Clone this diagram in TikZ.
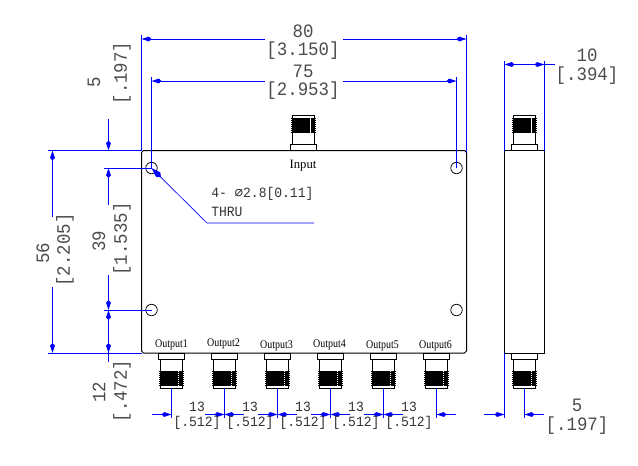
\documentclass[tikz,border=0pt]{standalone}
\usepackage{fontspec}
\usetikzlibrary{arrows.meta}
\setmainfont{Liberation Serif}
\newfontfamily\cadfont[FakeStretch=.92]{Liberation Mono}
\newfontfamily\portfont[FakeStretch=.85]{Liberation Serif}
\newfontfamily\symfont{DejaVu Sans Mono}

\tikzset{
    outline/.style={draw=black, line width=.75pt},
    dimline/.style={draw=blue, line width=.75pt},
    dimtip/.style={dimline, -{Kite[length=7.5pt, width=3.6pt, inset=2pt]}},
    bigdim/.style={font=\cadfont\fontsize{14.2}{16}\selectfont, inner sep=0pt, text=black!70},
    smalldim/.style={font=\cadfont\fontsize{10.6}{12}\selectfont, inner sep=0pt, text=black!80},
    portlabel/.style={font=\portfont\fontsize{8.8}{10}\selectfont, inner sep=0pt},
    hole/.style={draw=black, line width=.55pt, circle, minimum size=8.6pt, inner sep=0pt, outer sep=0pt},
    connector/.pic={
        \draw [outline] (-13,0) rectangle (13,6.5);
        \draw [outline] (-11,6.5) -- (-11,35) -- (11,35) -- (11,6.5);
        \fill [black] (-11,18) rectangle (11,33);
        \foreach \ty in {18,20,...,32}
            \draw [black, line width=.65pt] (-12.5,\ty) -- (12.5,\ty);
        \draw [white, line width=.6pt, dash pattern=on .8pt off .7pt] (7,18) -- (7,33);
    }
}

\begin{document}
\begin{tikzpicture}[x=.75pt, y=-.75pt]
    \useasboundingbox (0,0) rectangle (638,465);

    % front view
    \coordinate (TL) at (141.5,150.5);
    \coordinate (TR) at (466.5,150.5);
    \coordinate (BL) at (141.5,353);
    \coordinate (BR) at (466.5,353);
    \draw [outline] (143.5,150.5) -- (464.5,150.5) -- (466.5,152.5) -- (466.5,351) -- (464.5,353)
        -- (143.5,353) -- (141.5,351) -- (141.5,152.5) -- cycle;

    \node [hole] (H1) at (151.5,168) {};
    \node [hole] (H2) at (456.5,168) {};
    \node [hole] (H3) at (151.5,310) {};
    \node [hole] (H4) at (456.5,310) {};

    % side view
    \coordinate (ST) at (504.5,150.5);
    \coordinate (SB) at (504.5,353);
    \draw [outline] (504.5,150.5) rectangle (544.5,353);

    % connectors
    \pic [yscale=-1] at (303,150.5) {connector};
    \pic [yscale=-1] at (524.5,150.5) {connector};
    \pic at (524.5,353) {connector};
    \foreach \cx in {171.5,224.5,...,436.5}
        \pic at (\cx,353) {connector};

    \node [portlabel, font=\fontsize{9.5}{11}\selectfont] (Input) at (303,166) {Input};
    \node [portlabel] (Out1) at (171.5,345) {Output1};
    \node [portlabel] (Out2) at (223.5,344) {Output2};
    \node [portlabel] (Out3) at (276.5,346) {Output3};
    \node [portlabel] (Out4) at (329.5,345) {Output4};
    \node [portlabel] (Out5) at (382.5,346) {Output5};
    \node [portlabel] (Out6) at (435.5,346) {Output6};

    % top dimensions
    \node [bigdim] (D80) at (303,31) {80};
    \node [bigdim] (D80in) at (303,51) {[3.150]};
    \node [bigdim] (D75) at (303,71) {75};
    \node [bigdim] (D75in) at (303,91) {[2.953]};
    \draw [dimline] (141.5,35) -- (TL);
    \draw [dimline] (466.5,35) -- (466.5,153);
    \draw [dimline] (151.5,77) -- (H1.center);
    \draw [dimline] (456.5,77) -- (H2.center);
    \draw [dimtip] (265,39) -- (141.5,39);
    \draw [dimtip] (343,39) -- (466.5,39);
    \draw [dimtip] (265,81) -- (151.5,81);
    \draw [dimtip] (343,81) -- (456.5,81);

    \node [bigdim] (D10) at (587,55) {10};
    \node [bigdim] (D10in) at (587,76) {[.394]};
    \draw [dimline] (504.5,61) -- (ST);
    \draw [dimline] (544.5,61) -- (544.5,150.5);
    \draw [dimtip] (555,64.5) -- (504.5,64.5);
    \draw [dimtip] (524,64.5) -- (544.5,64.5);

    % left dimensions
    \draw [dimline] (48,150.5) -- (TL);
    \draw [dimline] (48,353) -- (BL);
    \draw [dimline] (104,168) -- (H1.center);
    \draw [dimline] (104,310) -- (H3.center);
    \draw [dimtip] (52.5,217) -- (52.5,150.5);
    \draw [dimtip] (52.5,287) -- (52.5,353);
    \draw [dimtip] (108.5,119) -- (108.5,150.5);
    \draw [dimtip] (108.5,205) -- (108.5,168);
    \draw [dimtip] (108.5,275) -- (108.5,310);
    \draw [dimtip] (108.5,353) -- (108.5,310);
    \draw [dimtip] (108.5,310) -- (108.5,353);
    \draw [dimline] (108.5,353) -- (108.5,362);

    \node [bigdim, rotate=90] (D56) at (43,253) {56};
    \node [bigdim, rotate=90] (D56in) at (65,250) {[2.205]};
    \node [bigdim, rotate=90] (D5) at (94,82) {5};
    \node [bigdim, rotate=90] (D5in) at (122,73) {[.197]};
    \node [bigdim, rotate=90] (D39) at (99,241) {39};
    \node [bigdim, rotate=90] (D39in) at (122,239) {[1.535]};
    \node [bigdim, rotate=90] (D12) at (99,392) {12};
    \node [bigdim, rotate=90] (D12in) at (122,391) {[.472]};

    % hole callout
    \node [smalldim, anchor=west] (Note) at (211,194) {4- {\symfont ⌀}2.8[0.11]};
    \node [smalldim, anchor=west] (Thru) at (211,212) {THRU};
    \coordinate (Knee) at (207,223);
    \draw [dimline, line width=.5pt, -{Kite[length=10pt, width=4.5pt, inset=3pt]}] (314,223) -- (Knee) -- (H1.center);

    % bottom dimensions
    \foreach \cx in {171.5,224.5,...,436.5}
        \draw [dimline] (\cx,388) -- (\cx,418);
    \draw [dimline] (SB) -- (504.5,418);
    \draw [dimline] (524.5,388) -- (524.5,418);
    \draw [dimtip] (152,414.5) -- (171.5,414.5);
    \foreach \cx in {224.5,277.5,...,383.5} {
        \draw [dimtip] (\cx-19.5,414.5) -- (\cx,414.5);
        \draw [dimtip] (\cx+19.5,414.5) -- (\cx,414.5);
    }
    \draw [dimtip] (456,414.5) -- (436.5,414.5);
    \draw [dimtip] (484,414.5) -- (504.5,414.5);
    \draw [dimtip] (544,414.5) -- (524.5,414.5);

    \foreach \lx [count=\li] in {197,250,303,356,409} {
        \node [smalldim] (D13-\li) at (\lx,407) {13};
        \node [smalldim] (D13in-\li) at (\lx,423) {[.512]};
    }
    \node [bigdim] (D5s) at (577,405) {5};
    \node [bigdim] (D5sin) at (577,426) {[.197]};
\end{tikzpicture}
\end{document}
